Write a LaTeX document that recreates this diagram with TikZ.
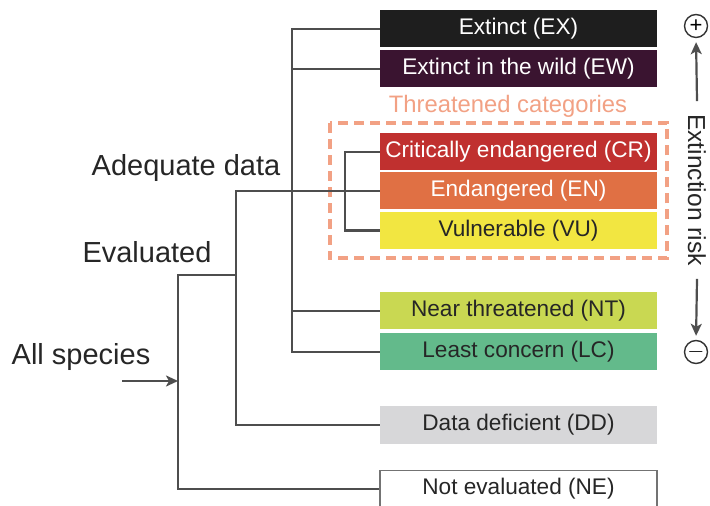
\documentclass[tikz,border=0pt]{standalone}
\usepackage{fontspec}
\setmainfont{Liberation Sans}
\usetikzlibrary{positioning,arrows.meta}
\definecolor{exC}{HTML}{1E1E1E}
\definecolor{ewC}{HTML}{3A1430}
\definecolor{crC}{HTML}{C0302F}
\definecolor{enC}{HTML}{E07044}
\definecolor{vuC}{HTML}{F2E641}
\definecolor{ntC}{HTML}{C9D852}
\definecolor{lcC}{HTML}{63BA8B}
\definecolor{ddC}{HTML}{D7D7D9}
\definecolor{thrC}{HTML}{F2A184}
\definecolor{lineC}{HTML}{4E4E4E}
\tikzstyle{cat} = [rectangle, minimum width=138.5pt, minimum height=18.5pt,
                   inner sep=0pt, font=\fontsize{11.3}{13}\selectfont]
\tikzstyle{dark} = [cat, text=white]
\tikzstyle{light} = [cat, text=black!85]
\tikzstyle{link} = [draw=lineC, line width=1.1pt]
\tikzstyle{arr} = [link, -{Stealth[length=6pt,width=5.5pt,inset=1.5pt]}]
\tikzstyle{grouptxt} = [font=\fontsize{14.5}{17}\selectfont, text=black!85]
\tikzstyle{sign} = [circle, draw=black!80, line width=0.7pt, minimum size=11.5pt,
                    inner sep=0pt, font=\fontsize{11}{11}\selectfont]

\begin{document}
\begin{tikzpicture}[x=0.5pt,y=-0.5pt]%
  \useasboundingbox (0,0) rectangle (710,506);
  \clip (0,0) rectangle (710,506);
  % categories
  \node[dark, fill=exC] (EX) at (518.5,29) {Extinct (EX)};
  \node[dark, fill=ewC] (EW) at (518.5,69) {Extinct in the wild (EW)};
  \node[dark, fill=crC] (CR) at (518.5,152) {Critically endangered (CR)};
  \node[dark, fill=enC] (EN) at (518.5,191) {Endangered (EN)};
  \node[light, fill=vuC] (VU) at (518.5,230.5) {Vulnerable (VU)};
  \node[light, fill=ntC] (NT) at (518.5,311) {Near threatened (NT)};
  \node[light, fill=lcC] (LC) at (518.5,352) {Least concern (LC)};
  \node[light, fill=ddC] (DD) at (518.5,425) {Data deficient (DD)};
  \node[light, draw=black!55, line width=0.8pt] (NE) at (518.5,489) {Not evaluated (NE)};
  % threatened group
  \draw[draw=thrC, line width=2pt, dash pattern=on 5pt off 3pt]
    ([xshift=-25pt,yshift=5pt]CR.north west) rectangle ([xshift=5pt,yshift=-4.5pt]VU.south east);
  \node[font=\fontsize{11.9}{14}\selectfont, text=thrC] (thrtxt) at (508,106) {Threatened categories};
  % tree
  \coordinate (adq) at (292,191);
  \coordinate (thr) at (345,191);
  \coordinate (eva) at (236,275);
  \coordinate (all) at (178,381);
  \coordinate (start) at (122,381);
  \draw[link] (EX.west) -| (adq) |- (LC.west);
  \draw[link] (EW.west) -- (EW.west -| adq);
  \draw[link] (NT.west) -- (NT.west -| adq);
  \draw[link] (CR.west) -| (thr) |- (VU.west);
  \draw[link] (EN.west) -| (eva) |- (DD.west);
  \draw[link] (eva) -| (all) |- (NE.west);
  \draw[arr] (start) -- (all);
  \node[grouptxt] (adqtxt) at (186,168) {Adequate data};
  \node[grouptxt] (evatxt) at (147,252) {Evaluated};
  \node[grouptxt] (alltxt) at (81,357) {All species};
  % extinction risk
  \node[sign] (plus) at (696,26) {+};
  \node[sign] (minus) at (696,352) {$-$};
  \node[font=\fontsize{12.3}{14}\selectfont, text=black!85, rotate=-90] (risk) at (697,190) {Extinction risk};
  \draw[arr, shorten >=2pt] (risk.west) ++(0,-6) -- (plus.south);
  \draw[arr, shorten >=2pt] (risk.east) ++(0,6) -- (minus.north);
\end{tikzpicture}
\end{document}
